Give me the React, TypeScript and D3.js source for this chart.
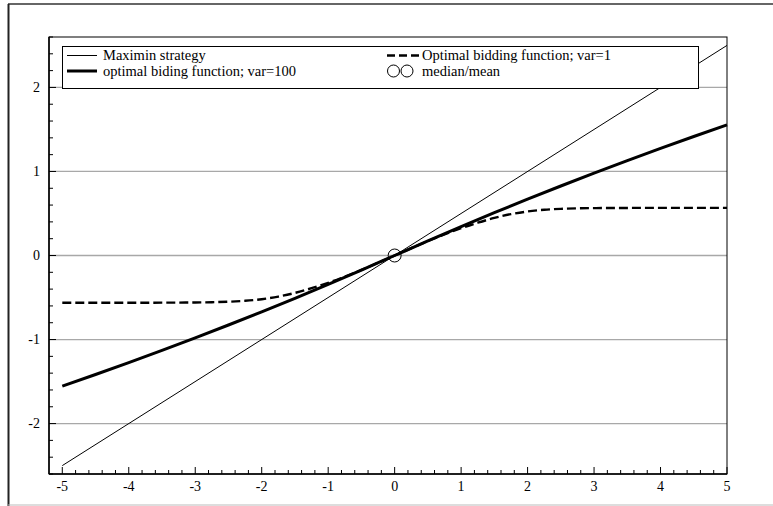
import React from "react";
import * as d3 from "d3";

const W = 773;
const H = 506;

// x tick labels and y tick labels
const xTickValues = [-5, -4, -3, -2, -1, 0, 1, 2, 3, 4, 5];
const yTickValues = [-2, -1, 0, 1, 2];

// Maximin strategy (straight line)
const maximinX = [-5, 5];
const maximinY = [-2.5, 2.5];

// Optimal biding function; var=100
const var100X = [-5, -4.5, -4, -3.5, -3, -2.5, -2, -1.5, -1, -0.5, 0, 0.5, 1, 1.5, 2, 2.5, 3, 3.5, 4, 4.5, 5];
const var100Y = [-1.555, -1.416, -1.274, -1.129, -0.98, -0.827, -0.67, -0.509, -0.344, -0.174, 0, 0.174, 0.344, 0.509, 0.67, 0.827, 0.98, 1.129, 1.274, 1.416, 1.555];

// Optimal bidding function; var=1
const var1X = [-5, -4, -3.5, -3, -2.75, -2.5, -2.25, -2, -1.75, -1.5, -1.25, -1, -0.75, -0.5, -0.25, 0, 0.25, 0.5, 0.75, 1, 1.25, 1.5, 1.75, 2, 2.25, 2.5, 2.75, 3, 3.5, 4, 5];
const var1Y = [-0.562, -0.562, -0.561, -0.559, -0.556, -0.55, -0.539, -0.52, -0.489, -0.445, -0.389, -0.325, -0.252, -0.172, -0.087, 0, 0.087, 0.172, 0.252, 0.325, 0.39, 0.447, 0.492, 0.524, 0.544, 0.555, 0.561, 0.564, 0.566, 0.567, 0.567];

// median/mean marker
const markerX = [0];
const markerY = [0];

const legendLeft = ["Maximin strategy", "optimal biding function; var=100"];
const legendRight = ["Optimal bidding function; var=1", "median/mean"];

const FONT = '"Liberation Serif", "DejaVu Serif", serif';

export default function App() {
  const L = 49, R = 727, T = 37, B = 474;
  const x = d3.scaleLinear().domain([-5.2, 5]).range([L, R]);
  const y = d3.scaleLinear().domain([-2.6, 2.6]).range([B, T]);

  const line = (xs: number[], ys: number[], curve = d3.curveMonotoneX) =>
    d3
      .line<number>()
      .x((_, i) => x(xs[i]))
      .y((d) => y(d))
      .curve(curve)(ys) || "";

  const xMinor = d3.range(-5, 5.001, 0.2).map((v) => +v.toFixed(2));
  const yMinor = d3.range(-2.6, 2.601, 0.2).map((v) => +v.toFixed(2));
  const isInt = (v: number) => Math.abs(v - Math.round(v)) < 1e-6;

  const lgX0 = 62, lgX1 = 698, lgY0 = 46, lgY1 = 88;
  const row1 = 55.5, row2 = 71;
  const col2 = 387;
  const ts: React.CSSProperties = { fontFamily: FONT };

  return (
    <svg
      width={W}
      height={H}
      style={{ position: "absolute", left: 0, top: 0, background: "#fff" }}
    >
      {/* outer frame */}
      <line x1={8} y1={4} x2={W} y2={4} stroke="#333" strokeWidth={1.5} />
      <line x1={8.5} y1={4} x2={8.5} y2={H} stroke="#222" strokeWidth={2} />
      <line x1={8} y1={505} x2={W} y2={505} stroke="#bbb" strokeWidth={1.2} />

      {/* gridlines */}
      {yTickValues.map((v) => (
        <line key={"g" + v} x1={L} x2={R} y1={y(v)} y2={y(v)} stroke="#a8a8a8" strokeWidth={1.3} />
      ))}

      {/* plot frame */}
      <rect x={L} y={T} width={R - L} height={B - T} fill="none" stroke="#000" strokeWidth={1} />
      <line x1={L} x2={L} y1={T} y2={B} stroke="#000" strokeWidth={1.5} />
      <line x1={L} x2={R} y1={B} y2={B} stroke="#000" strokeWidth={1.5} />

      {/* x ticks */}
      {xMinor.map((v) => (
        <line key={"xt" + v} x1={x(v)} x2={x(v)} y1={B} y2={B - (isInt(v) ? 7 : 4)} stroke="#000" strokeWidth={1} />
      ))}
      {/* y ticks */}
      {yMinor.map((v) => (
        <line key={"yt" + v} x1={L} x2={L + (isInt(v) ? 7 : 4)} y1={y(v)} y2={y(v)} stroke="#000" strokeWidth={1} />
      ))}

      {/* tick labels */}
      {xTickValues.map((v) => (
        <text key={"xl" + v} x={x(v)} y={491} textAnchor="middle" fontSize={14} style={ts}>
          {v < 0 ? "-" + Math.abs(v) : String(v)}
        </text>
      ))}
      {yTickValues.map((v) => (
        <text key={"yl" + v} x={40} y={y(v) + 4.5} textAnchor="end" fontSize={14} style={ts}>
          {v < 0 ? "-" + Math.abs(v) : String(v)}
        </text>
      ))}

      {/* series */}
      <path d={line(maximinX, maximinY, d3.curveLinear)} fill="none" stroke="#000" strokeWidth={1} />
      <path d={line(var100X, var100Y)} fill="none" stroke="#000" strokeWidth={3} />
      <path d={line(var1X, var1Y)} fill="none" stroke="#000" strokeWidth={2.4} strokeDasharray="9 4" />
      {markerX.map((v, i) => (
        <circle key={"m" + i} cx={x(v)} cy={y(markerY[i])} r={6.5} fill="none" stroke="#000" strokeWidth={1} />
      ))}

      {/* legend */}
      <rect x={lgX0 + 0.5} y={lgY0 + 0.5} width={lgX1 - lgX0} height={lgY1 - lgY0} fill="#fff" stroke="#000" strokeWidth={1} />
      <line x1={67} x2={97} y1={row1} y2={row1} stroke="#000" strokeWidth={1} />
      <text x={103} y={row1 + 4.5} fontSize={14.5} style={ts}>{legendLeft[0]}</text>
      <line x1={67} x2={97} y1={row2} y2={row2} stroke="#000" strokeWidth={3} />
      <text x={103} y={row2 + 4.5} fontSize={14.5} style={ts}>{legendLeft[1]}</text>

      <line x1={col2} x2={419} y1={row1} y2={row1} stroke="#000" strokeWidth={2.4} strokeDasharray="8 4" />
      <text x={422} y={row1 + 4.5} fontSize={14.5} style={ts}>{legendRight[0]}</text>
      <circle cx={col2 + 6.5} cy={row2} r={6} fill="none" stroke="#000" strokeWidth={1} />
      <circle cx={col2 + 20} cy={row2} r={6} fill="none" stroke="#000" strokeWidth={1} />
      <text x={422} y={row2 + 4.5} fontSize={14.5} style={ts}>{legendRight[1]}</text>
    </svg>
  );
}
